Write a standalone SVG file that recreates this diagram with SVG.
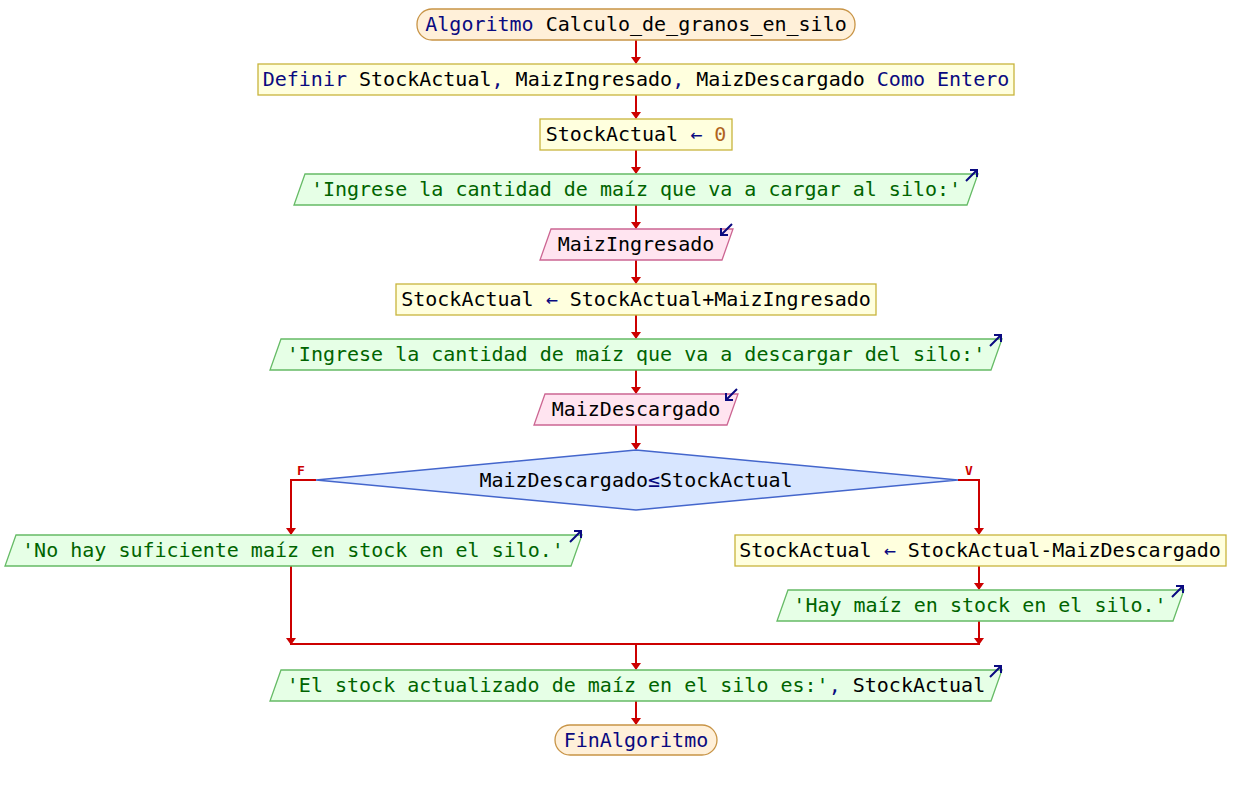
<svg xmlns="http://www.w3.org/2000/svg" width="1236" height="790" viewBox="0 0 1236 790">
<style>
text{font-family:"DejaVu Sans Mono","Liberation Mono",monospace;font-size:20px;text-anchor:middle;fill:#000000}
.kw{fill:#0a0a80}
.st{fill:#006400}
.nu{fill:#b0641e}
.term{fill:#fff0d9;stroke:#c89446;stroke-width:1.3}
.asg{fill:#ffffde;stroke:#c8b43c;stroke-width:1.3}
.out{fill:#e6ffe6;stroke:#66bb66;stroke-width:1.3}
.inp{fill:#ffe4f0;stroke:#cc6692;stroke-width:1.3}
.dec{fill:#d8e6ff;stroke:#4466cc;stroke-width:1.5}
.ico{stroke:#0a0a80;stroke-width:2;fill:none}
.con{stroke:#cc0000;stroke-width:2;fill:none}
.lbl{fill:#cc0000;font-size:13px;font-weight:bold}
</style>
<defs>
<marker id="ah" markerWidth="10" markerHeight="8" refX="5" refY="7" orient="auto-start-reverse" markerUnits="userSpaceOnUse" viewBox="0 0 10 8">
<path d="M0,0 L10,0 L5,7 Z" fill="#cc0000" transform="rotate(0)"/>
</marker>
<marker id="ic" markerWidth="8" markerHeight="8" refX="7" refY="4" orient="auto" markerUnits="userSpaceOnUse" viewBox="0 0 8 8">
<path d="M0,0 L7,4 L0,8" fill="none" stroke="#0a0a80" stroke-width="2"/>
</marker>
</defs>
<rect width="1236" height="790" fill="#ffffff"/>
<g id="connectors">
<path class="con" d="M636,40 V63"/>
<path d="M631,57 h10 l-5,7 z" fill="#cc0000"/>
<path class="con" d="M636,95 V118"/>
<path d="M631,112 h10 l-5,7 z" fill="#cc0000"/>
<path class="con" d="M636,150 V173"/>
<path d="M631,167 h10 l-5,7 z" fill="#cc0000"/>
<path class="con" d="M636,205 V228"/>
<path d="M631,222 h10 l-5,7 z" fill="#cc0000"/>
<path class="con" d="M636,260 V283"/>
<path d="M631,277 h10 l-5,7 z" fill="#cc0000"/>
<path class="con" d="M636,315 V338"/>
<path d="M631,332 h10 l-5,7 z" fill="#cc0000"/>
<path class="con" d="M636,370 V393"/>
<path d="M631,387 h10 l-5,7 z" fill="#cc0000"/>
<path class="con" d="M636,425 V449"/>
<path d="M631,443 h10 l-5,7 z" fill="#cc0000"/>
<path class="con" d="M316,480 H291 V534"/>
<path d="M286,528 h10 l-5,7 z" fill="#cc0000"/>
<path class="con" d="M958,480 H979 V534"/>
<path d="M974,528 h10 l-5,7 z" fill="#cc0000"/>
<path class="con" d="M979,566 V589"/>
<path d="M974,583 h10 l-5,7 z" fill="#cc0000"/>
<path class="con" d="M291,566 V644 H979 V621"/>
<path d="M286,638 h10 l-5,7 z" fill="#cc0000"/>
<path d="M974,638 h10 l-5,7 z" fill="#cc0000"/>
<path class="con" d="M636,644 V669"/>
<path d="M631,663 h10 l-5,7 z" fill="#cc0000"/>
<path class="con" d="M636,701 V724"/>
<path d="M631,718 h10 l-5,7 z" fill="#cc0000"/>
<text class="lbl" x="301" y="475">F</text>
<text class="lbl" x="969" y="475">V</text>
</g>
<g id="start">
<rect class="term" x="417" y="9" width="438" height="31" rx="15"/>
<text x="636" y="31"><tspan class="kw">Algoritmo</tspan> Calculo_de_granos_en_silo</text>
</g>
<g id="definir">
<rect class="asg" x="258" y="64" width="756" height="31"/>
<text x="636" y="86"><tspan class="kw">Definir</tspan> StockActual<tspan class="kw">,</tspan> MaizIngresado<tspan class="kw">,</tspan> MaizDescargado <tspan class="kw">Como Entero</tspan></text>
</g>
<g id="assign0">
<rect class="asg" x="540" y="119" width="192" height="31"/>
<text x="636" y="141">StockActual <tspan class="kw">←</tspan> <tspan class="nu">0</tspan></text>
</g>
<g id="out1">
<polygon class="out" points="305,174 978,174 967,205 294,205"/>
<text x="636" y="196" class="st">'Ingrese la cantidad de maíz que va a cargar al silo:'</text>
<path class="ico" d="M966,181 L977,170 M970,170 H977 V177"/>
</g>
<g id="in1">
<polygon class="inp" points="551,229 733,229 722,260 540,260"/>
<text x="636" y="251">MaizIngresado</text>
<path class="ico" d="M732,224 L721,235 M721,228 V235 H728"/>
</g>
<g id="assign1">
<rect class="asg" x="396" y="284" width="480" height="31"/>
<text x="636" y="306">StockActual <tspan class="kw">←</tspan> StockActual+MaizIngresado</text>
</g>
<g id="out2">
<polygon class="out" points="281,339 1002,339 991,370 270,370"/>
<text x="636" y="361" class="st">'Ingrese la cantidad de maíz que va a descargar del silo:'</text>
<path class="ico" d="M990,346 L1001,335 M994,335 H1001 V342"/>
</g>
<g id="in2">
<polygon class="inp" points="545,394 738,394 727,425 534,425"/>
<text x="636" y="416">MaizDescargado</text>
<path class="ico" d="M737,389 L726,400 M726,393 V400 H733"/>
</g>
<g id="decision">
<polygon class="dec" points="636,450 958,480 636,510 316,480"/>
<text x="636" y="487">MaizDescargado<tspan class="kw">≤</tspan>StockActual</text>
</g>
<g id="outNo">
<polygon class="out" points="16,535 582,535 571,566 5,566"/>
<text x="293" y="557" class="st">'No hay suficiente maíz en stock en el silo.'</text>
<path class="ico" d="M570,542 L581,531 M574,531 H581 V538"/>
</g>
<g id="assignYes">
<rect class="asg" x="735" y="535" width="491" height="31"/>
<text x="980" y="557">StockActual <tspan class="kw">←</tspan> StockActual-MaizDescargado</text>
</g>
<g id="outYes">
<polygon class="out" points="788,590 1184,590 1173,621 777,621"/>
<text x="980" y="612" class="st">'Hay maíz en stock en el silo.'</text>
<path class="ico" d="M1172,597 L1183,586 M1176,586 H1183 V593"/>
</g>
<g id="outFinal">
<polygon class="out" points="281,670 1002,670 991,701 270,701"/>
<text x="636" y="692"><tspan class="st">'El stock actualizado de maíz en el silo es:'</tspan><tspan class="kw">,</tspan> StockActual</text>
<path class="ico" d="M990,677 L1001,666 M994,666 H1001 V673"/>
</g>
<g id="end">
<rect class="term" x="555" y="725" width="162" height="30" rx="15"/>
<text x="636" y="747" class="kw">FinAlgoritmo</text>
</g>
</svg>
